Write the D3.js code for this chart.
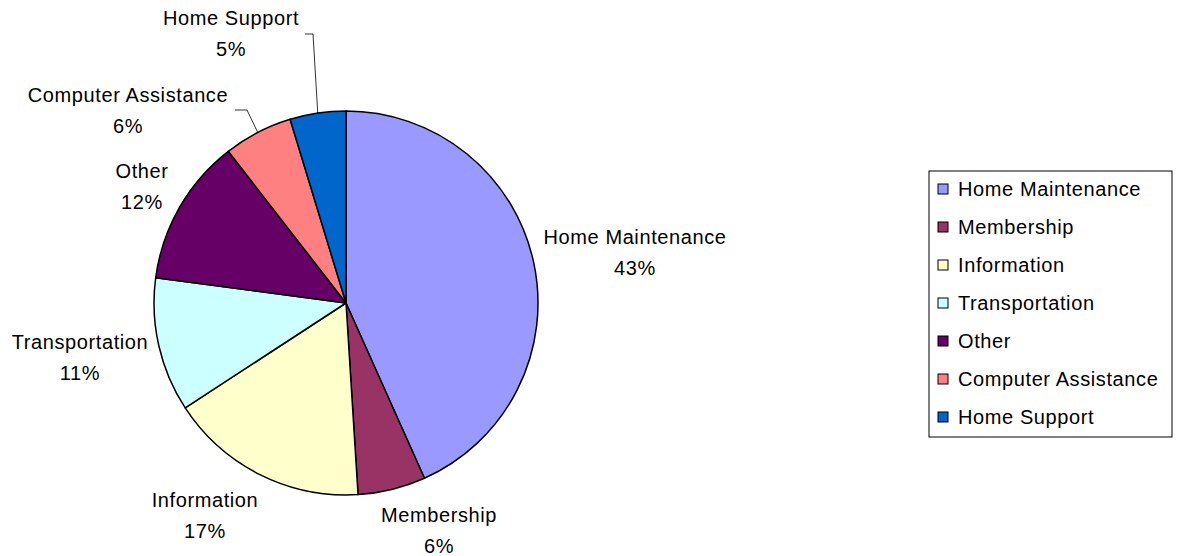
<!DOCTYPE html>
<html>
<head>
<meta charset="utf-8">
<script src="https://cdn.jsdelivr.net/npm/d3@7"></script>
<style>
	body { margin: 0; background: #fff; }
	text { font-family: "Liberation Sans", Arial, sans-serif; font-size: 20px; letter-spacing: 0.6px; fill: #000; }
</style>
</head>
<body>
<svg id="chart" width="1178" height="556"></svg>
<script>
var categories = ["Home Maintenance", "Membership", "Information", "Transportation", "Other", "Computer Assistance", "Home Support"],
	values = [43.3, 5.7, 16.8, 11.3, 12.4, 5.8, 4.7],
	colors = ["#9999ff", "#993366", "#ffffcc", "#ccffff", "#660066", "#ff8080", "#0066cc"],
	// label anchor points (centre of the two-line label)
	labelPos = [[635, 252], [439, 530], [205, 515], [80, 357], [142, 186], [128, 110], [231, 33]];

var svg = d3.select("#chart"),
	cx = 346, cy = 303, r = 192;

var data = categories.map(function(c, i) {
	return { name: c, value: values[i], color: colors[i], lp: labelPos[i] };
});

var total = d3.sum(values);
var pie = d3.pie().sort(null).value(function(d) { return d.value; });
var arc = d3.arc().innerRadius(0).outerRadius(r);
var outer = d3.arc().innerRadius(r).outerRadius(r);

var g = svg.append("g").attr("transform", "translate(" + cx + "," + cy + ")");
var arcs = pie(data);

g.selectAll("path")
	.data(arcs)
	.enter()
	.append("path")
	.attr("d", arc)
	.attr("fill", function(d) { return d.data.color; })
	.attr("stroke", "#000")
	.attr("stroke-width", 1.5)
	.attr("stroke-linejoin", "round");

//leader lines for the two small top slices
var leaders = { "Computer Assistance": [235, 110, 247], "Home Support": [305, 34, 313] };
arcs.forEach(function(a) {
	var l = leaders[a.data.name];
	if (!l) { return; }
	var c = outer.centroid(a);
	svg.append("polyline")
		.attr("points", l[0] + "," + l[1] + " " + l[2] + "," + l[1] + " " + (cx + c[0]) + "," + (cy + c[1]))
		.attr("fill", "none")
		.attr("stroke", "#000")
		.attr("stroke-width", 0.8);
});

var labels = svg.selectAll("text.lbl")
	.data(arcs)
	.enter()
	.append("text")
	.attr("class", "lbl")
	.attr("text-anchor", "middle");
labels.append("tspan")
	.attr("x", function(d) { return d.data.lp[0]; })
	.attr("y", function(d) { return d.data.lp[1] - 8; })
	.text(function(d) { return d.data.name; });
labels.append("tspan")
	.attr("x", function(d) { return d.data.lp[0]; })
	.attr("y", function(d) { return d.data.lp[1] + 23; })
	.text(function(d) { return Math.round(d.data.value / total * 100) + "%"; });

//legend
var legend = svg.append("g").attr("transform", "translate(929,171)");
legend.append("rect")
	.attr("width", 243)
	.attr("height", 266)
	.attr("fill", "#fff")
	.attr("stroke", "#000")
	.attr("stroke-width", 1);
var ly = d3.scalePoint().domain(categories).range([18, 246]);
var items = legend.selectAll("g.item")
	.data(data)
	.enter()
	.append("g")
	.attr("class", "item")
	.attr("transform", function(d) { return "translate(0," + ly(d.name) + ")"; });
items.append("rect")
	.attr("x", 9)
	.attr("y", -5)
	.attr("width", 10)
	.attr("height", 10)
	.attr("fill", function(d) { return d.color; })
	.attr("stroke", "#000")
	.attr("stroke-width", 1);
items.append("text")
	.attr("x", 29)
	.attr("y", 7)
	.text(function(d) { return d.name; });
</script>
</body>
</html>
